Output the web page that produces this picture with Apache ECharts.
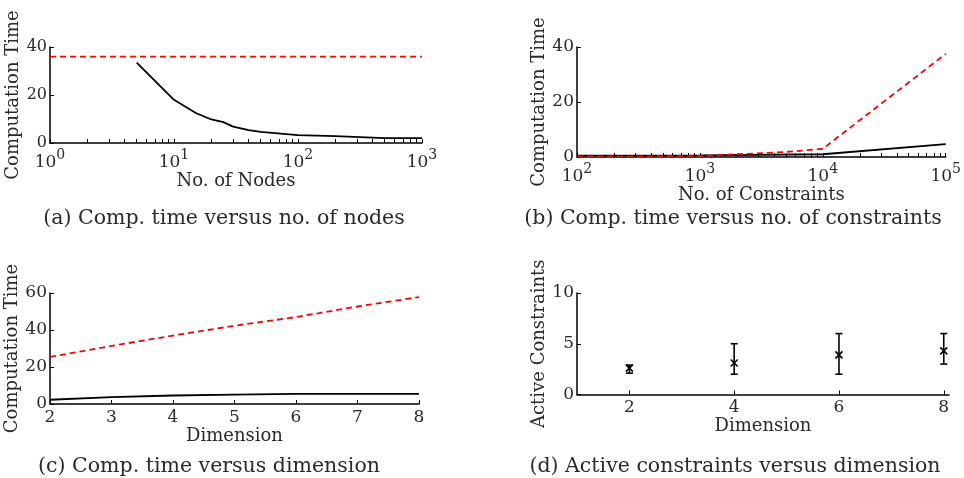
<!DOCTYPE html>
<html>
<head>
<meta charset="utf-8">
<script src="https://cdn.jsdelivr.net/npm/echarts@6/dist/echarts.min.js"></script>
<style>
html,body{margin:0;padding:0;background:#fff;}
#c{width:964px;height:478px;}
</style>
</head>
<body>
<div id="c"></div>
<script>
// ---- Data ----
// (a) computation time vs number of nodes
const nodesX = [5, 10, 15, 20, 25, 30, 40, 50, 100, 200, 500, 1000];
const nodesBlack = [33.5, 18, 12.5, 9.8, 8.7, 6.8, 5.4, 4.6, 3.3, 2.9, 2.0, 2.0];
const nodesRedX = [1, 1000];
const nodesRed = [36, 36];
// (b) computation time vs number of constraints
const consBlackX = [100, 1000, 10000, 100000];
const consBlack = [0.5, 0.6, 1.0, 4.7];
const consRedX = [100, 1000, 2000, 5000, 10000, 100000];
const consRed = [0.2, 0.3, 1.0, 1.8, 3.0, 37.5];
// (c) computation time vs dimension
const dimX = [2, 3, 4, 5, 6, 7, 8];
const dimBlack = [2.3, 3.7, 4.6, 5.1, 5.5, 5.5, 5.5];
const dimRed = [25.5, 31.4, 37, 42.3, 47, 52.7, 57.8];
// (d) active constraints vs dimension
const actX = [2, 4, 6, 8];
const actMean = [2.6, 3.1, 3.9, 4.3];
const actLow = [2.1, 2.0, 2.0, 3.0];
const actHigh = [2.9, 5.0, 6.0, 6.0];
// tick labels
const logLabelsA = [1, 10, 100, 1000];
const logLabelsB = [100, 1000, 10000, 100000];
const dimTicksD = [2, 4, 6, 8];
const captions = [
  '(a) Comp. time versus no. of nodes',
  '(b) Comp. time versus no. of constraints',
  '(c) Comp. time versus dimension',
  '(d) Active constraints versus dimension'
];

function logTicks(lo, hi) {
  const t = [];
  for (let d = lo; d < hi; d *= 10) {
    for (let k = 1; k < 10; k++) t.push(d * k);
  }
  t.push(hi);
  return t;
}

const FONT = 'DejaVu Serif';
const TXT = '#2a2a2a';
const NAME_FS = 18;
const pair = (xs, ys) => xs.map((x, i) => [x, ys[i]]);

const axisLine = {show: true, onZero: false, lineStyle: {color: '#000', width: 1.5}};
const tick = {show: true, inside: true, length: 4, lineStyle: {color: '#000', width: 1}};
const redStyle = {color: '#ff0000', width: 1.8, type: [6, 4]};
const blackStyle = {color: '#000', width: 1.8};

function logX(idx, min, max, labels, nameGap, name) {
  return {
    type: 'log', logBase: 10, gridIndex: idx, min: min, max: max,
    name: name, nameLocation: 'middle', nameGap: nameGap,
    nameTextStyle: {fontFamily: FONT, fontSize: NAME_FS, color: TXT},
    axisLine: axisLine,
    axisTick: Object.assign({}, tick, {customValues: logTicks(min, max)}),
    minorTick: {show: false},
    splitLine: {show: false},
    axisLabel: {
      customValues: labels, margin: 3,
      formatter: v => '{b|10}{s|' + Math.round(Math.log10(v)) + '}',
      rich: {
        b: {fontFamily: FONT, fontSize: 17, color: TXT, padding: [8, 0, 0, 0]},
        s: {fontFamily: FONT, fontSize: 14, color: TXT, padding: [0, 0, 7, 0]}
      }
    }
  };
}
function valY(idx, max, interval, name, nameGap, fs) {
  return {
    type: 'value', gridIndex: idx, min: 0, max: max, interval: interval,
    name: name, nameLocation: 'middle', nameGap: nameGap,
    nameTextStyle: {fontFamily: FONT, fontSize: NAME_FS, color: TXT},
    axisLine: axisLine, axisTick: tick, splitLine: {show: false},
    axisLabel: {fontFamily: FONT, fontSize: fs, color: TXT, margin: 3}
  };
}

const option = {
  backgroundColor: '#fff',
  animation: false,
  grid: [
    {left: 50, top: 47, width: 372, height: 96},
    {left: 577, top: 47, width: 372, height: 110},
    {left: 50, top: 293, width: 369, height: 111},
    {left: 577, top: 293, width: 372, height: 101.5}
  ],
  xAxis: [
    logX(0, 1, 1000, logLabelsA, 24, 'No. of Nodes'),
    logX(1, 100, 100000, logLabelsB, 27, 'No. of Constraints'),
    {
      type: 'value', gridIndex: 2, min: 2, max: 8, interval: 1,
      name: 'Dimension', nameLocation: 'middle', nameGap: 21,
      nameTextStyle: {fontFamily: FONT, fontSize: NAME_FS, color: TXT},
      axisLine: axisLine, axisTick: tick, splitLine: {show: false},
      axisLabel: {fontFamily: FONT, fontSize: 17, color: TXT, margin: 5}
    },
    {
      type: 'value', gridIndex: 3, min: 1, max: 8.1,
      name: 'Dimension', nameLocation: 'middle', nameGap: 20,
      nameTextStyle: {fontFamily: FONT, fontSize: NAME_FS, color: TXT},
      axisLine: axisLine,
      axisTick: Object.assign({}, tick, {customValues: dimTicksD}),
      splitLine: {show: false},
      axisLabel: {customValues: dimTicksD, fontFamily: FONT, fontSize: 17, color: TXT, margin: 5}
    }
  ],
  yAxis: [
    valY(0, 40, 20, 'Computation Time', 26, 16),
    valY(1, 40, 20, 'Computation Time', 26, 17),
    valY(2, 60, 20, 'Computation Time', 26, 17),
    valY(3, 10, 5, 'Active Constraints', 26, 17)
  ],
  series: [
    {type: 'line', xAxisIndex: 0, yAxisIndex: 0, data: pair(nodesRedX, nodesRed), symbol: 'none', lineStyle: redStyle},
    {type: 'line', xAxisIndex: 0, yAxisIndex: 0, data: pair(nodesX, nodesBlack), symbol: 'none', lineStyle: blackStyle},
    {type: 'line', xAxisIndex: 1, yAxisIndex: 1, data: pair(consBlackX, consBlack), symbol: 'none', lineStyle: blackStyle},
    {type: 'line', xAxisIndex: 1, yAxisIndex: 1, data: pair(consRedX, consRed), symbol: 'none', lineStyle: redStyle},
    {type: 'line', xAxisIndex: 2, yAxisIndex: 2, data: pair(dimX, dimRed), symbol: 'none', lineStyle: redStyle},
    {type: 'line', xAxisIndex: 2, yAxisIndex: 2, data: pair(dimX, dimBlack), symbol: 'none', lineStyle: blackStyle},
    {
      type: 'custom', xAxisIndex: 3, yAxisIndex: 3,
      data: actX.map((x, i) => [x, actMean[i], actLow[i], actHigh[i]]),
      renderItem: function (params, api) {
        const x = api.value(0);
        const pm = api.coord([x, api.value(1)]);
        const pl = api.coord([x, api.value(2)]);
        const ph = api.coord([x, api.value(3)]);
        const cw = 3.5, m = 3.5;
        const st = {stroke: '#000', lineWidth: 1.6, fill: null};
        return {
          type: 'group',
          children: [
            {type: 'line', shape: {x1: pl[0], y1: pl[1], x2: ph[0], y2: ph[1]}, style: st},
            {type: 'line', shape: {x1: pl[0] - cw, y1: pl[1], x2: pl[0] + cw, y2: pl[1]}, style: st},
            {type: 'line', shape: {x1: ph[0] - cw, y1: ph[1], x2: ph[0] + cw, y2: ph[1]}, style: st},
            {type: 'line', shape: {x1: pm[0] - m, y1: pm[1] - m, x2: pm[0] + m, y2: pm[1] + m}, style: st},
            {type: 'line', shape: {x1: pm[0] - m, y1: pm[1] + m, x2: pm[0] + m, y2: pm[1] - m}, style: st}
          ]
        };
      }
    }
  ],
  graphic: [
    {type: 'text', x: 224, y: 219, style: {text: captions[0], font: '20.5px "DejaVu Serif"', fill: TXT, textAlign: 'center', textVerticalAlign: 'middle'}},
    {type: 'text', x: 733, y: 219, style: {text: captions[1], font: '20.5px "DejaVu Serif"', fill: TXT, textAlign: 'center', textVerticalAlign: 'middle'}},
    {type: 'text', x: 209, y: 467, style: {text: captions[2], font: '20.5px "DejaVu Serif"', fill: TXT, textAlign: 'center', textVerticalAlign: 'middle'}},
    {type: 'text', x: 735, y: 467, style: {text: captions[3], font: '20.5px "DejaVu Serif"', fill: TXT, textAlign: 'center', textVerticalAlign: 'middle'}}
  ]
};

const chart = echarts.init(document.getElementById('c'), null, {renderer: 'canvas'});
chart.setOption(option);
</script>
</body>
</html>
